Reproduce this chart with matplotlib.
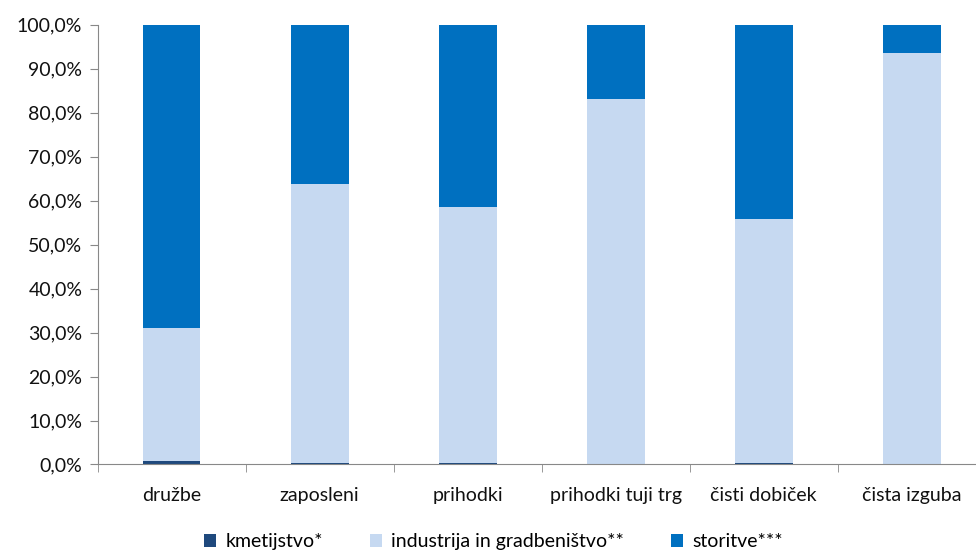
import matplotlib.pyplot as plt
from matplotlib.ticker import FuncFormatter

plt.rcParams['font.family'] = ['Lato', 'DejaVu Sans']

categories = ['družbe', 'zaposleni', 'prihodki', 'prihodki tuji trg', 'čisti dobiček', 'čista izguba']
kmetijstvo = [0.8, 0.4, 0.4, 0.1, 0.4, 0.1]
industrija = [30.3, 63.4, 58.1, 83.1, 55.4, 93.4]
storitve = [100 - k - i for k, i in zip(kmetijstvo, industrija)]

series_names = ['kmetijstvo*', 'industrija in gradbeništvo**', 'storitve***']
colors = ['#1F497D', '#C6D9F1', '#0070C0']

fig = plt.figure(figsize=(9.76, 5.51), dpi=100)
ax = fig.add_axes([0.1, 0.157, 0.91, 0.798])

x = range(len(categories))
w = 0.39
bottom = [0] * len(categories)
for vals, name, c in zip([kmetijstvo, industrija, storitve], series_names, colors):
    ax.bar(x, vals, w, bottom=bottom, color=c, label=name, zorder=2)
    bottom = [b + v for b, v in zip(bottom, vals)]

ax.set_xlim(-0.5, len(categories) - 0.5)
ax.set_ylim(0, 100)
ax.set_yticks(range(0, 101, 10))
ax.yaxis.set_major_formatter(FuncFormatter(lambda v, p: f'{v:.1f}'.replace('.', ',') + '%'))
ax.set_xticks(list(x))
ax.set_xticklabels(categories)
ax.set_xticks([i - 0.5 for i in range(len(categories) + 1)], minor=True)
ax.tick_params(axis='x', which='major', length=0, pad=16)
ax.tick_params(axis='x', which='minor', length=6, color='#888888')
ax.tick_params(axis='y', length=6, color='#888888', pad=5)
ax.tick_params(labelsize=14, labelcolor='#111111')

for s in ['top', 'right']:
    ax.spines[s].set_visible(False)
for s in ['left', 'bottom']:
    ax.spines[s].set_color('#888888')

ax.legend(loc='lower center', bbox_to_anchor=(0.446, -0.2), ncol=3, frameon=False,
          fontsize=14, handlelength=0.6, handleheight=0.6, columnspacing=2.4,
          handletextpad=0.5, borderaxespad=0, borderpad=0.1)

fig.savefig('out.png', dpi=100)
